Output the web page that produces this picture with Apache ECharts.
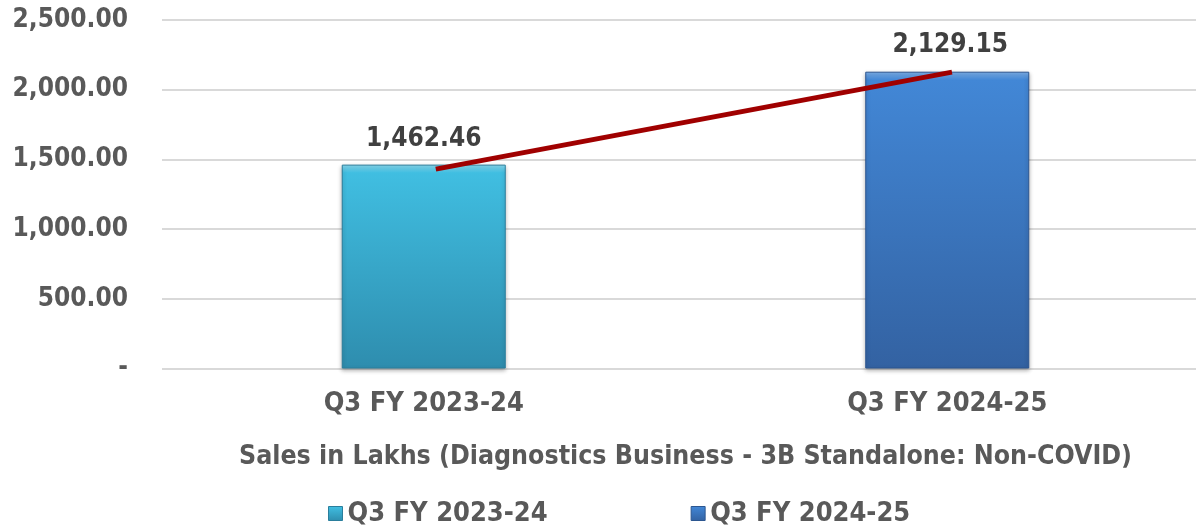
<!DOCTYPE html>
<html>
<head>
<meta charset="utf-8">
<script src="https://cdn.jsdelivr.net/npm/echarts@6/dist/echarts.min.js"></script>
<style>
html,body{margin:0;padding:0;background:#fff;}
#c{width:1196px;height:525px;}
</style>
</head>
<body>
<div id="c"></div>
<script>
const categories = ['Q3 FY 2023-24', 'Q3 FY 2024-25'];
const salesValues = [1462.46, 2129.15];
const yTicks = [0, 500, 1000, 1500, 2000, 2500];
const trendX = [0.523, 1.509];
const trendY = [1430, 2126];
const axisTitle = 'Sales in Lakhs (Diagnostics Business - 3B Standalone: Non-COVID)';

const FONT = "'DejaVu Sans Condensed', 'DejaVu Sans', sans-serif";
function grad(top, mid, bot, edge) {
  return new echarts.graphic.LinearGradient(0, 0, 0, 1, [
    {offset: 0, color: top},
    {offset: edge, color: mid},
    {offset: 1, color: bot}
  ]);
}
const colorsA = grad('#8ADCF3', '#40BEE1', '#2E8DAE', 0.04);
const colorsB = grad('#7FB2EC', '#4287D6', '#3362A2', 0.028);
const fmt = v => v === 0 ? '-' : v.toLocaleString('en-US', {minimumFractionDigits: 2, maximumFractionDigits: 2});

const chart = echarts.init(document.getElementById('c'), null, {renderer: 'canvas'});
chart.setOption({
  animation: false,
  backgroundColor: '#fff',
  grid: {left: 162, top: 20, width: 1047, height: 348.5, containLabel: false, outerBoundsMode: 'none'},
  legend: {
    left: 323, top: 495, itemGap: 143, itemWidth: 14, itemHeight: 14,
    icon: 'rect',
    textStyle: {fontFamily: FONT, fontWeight: 'bold', fontSize: 27, color: '#595959'},
    data: [
      {name: categories[0], itemStyle: {color: colorsA, borderColor: '#2A7E9C', borderWidth: 1}},
      {name: categories[1], itemStyle: {color: colorsB, borderColor: '#2C5690', borderWidth: 1}}
    ]
  },
  xAxis: [{
    type: 'category', data: categories,
    axisLine: {show: false}, axisTick: {show: false},
    axisLabel: {fontFamily: FONT, fontWeight: 'bold', fontSize: 27, color: '#595959', margin: 22},
    name: axisTitle, nameLocation: 'middle', nameGap: 75,
    nameTextStyle: {fontFamily: FONT, fontWeight: 'bold', fontSize: 26.5, color: '#595959'}
  }, {
    type: 'value', min: 0, max: 2, show: false
  }],
  yAxis: {
    type: 'value', min: yTicks[0], max: yTicks[yTicks.length - 1], interval: yTicks[1] - yTicks[0],
    axisLine: {show: false}, axisTick: {show: false},
    splitLine: {lineStyle: {color: '#D9D9D9', width: 2}},
    axisLabel: {fontFamily: FONT, fontWeight: 'bold', fontSize: 26, color: '#595959', margin: 34, formatter: fmt}
  },
  series: [
    {
      name: categories[0], type: 'bar', barWidth: 164, barGap: '-100%',
      data: [salesValues[0], '-'],
      itemStyle: {color: colorsA, borderColor: '#2A7E9C', borderWidth: 1, shadowColor: 'rgba(0,0,0,0.3)', shadowBlur: 4, shadowOffsetY: 2},
      label: {show: true, position: 'top', distance: 12, formatter: p => fmt(p.value),
        fontFamily: FONT, fontWeight: 'bold', fontSize: 26, color: '#404040'}
    },
    {
      name: categories[1], type: 'bar', barWidth: 164, barGap: '-100%',
      data: ['-', salesValues[1]],
      itemStyle: {color: colorsB, borderColor: '#2C5690', borderWidth: 1, shadowColor: 'rgba(0,0,0,0.3)', shadowBlur: 4, shadowOffsetY: 2},
      label: {show: true, position: 'top', distance: 13, offset: [3, 0], formatter: p => fmt(p.value),
        fontFamily: FONT, fontWeight: 'bold', fontSize: 26, color: '#404040'}
    },
    {
      name: 'trend', type: 'line', xAxisIndex: 1,
      data: trendX.map((x, i) => [x, trendY[i]]),
      symbol: 'none', lineStyle: {color: '#A00000', width: 5}, z: 5
    }
  ]
});
</script>
</body>
</html>
